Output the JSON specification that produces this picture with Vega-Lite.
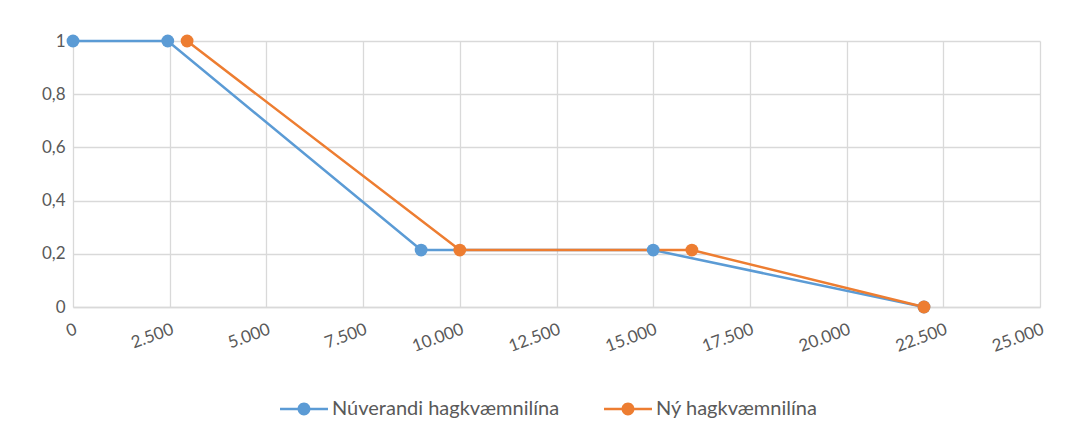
{
  "$schema": "https://vega.github.io/schema/vega-lite/v6.json",
  "autosize": {"type": "none"},
  "width": 967,
  "height": 266,
  "padding": {"left": 73, "top": 41, "right": 42, "bottom": 127},
  "background": "white",
  "config": {
    "font": "Lato",
    "view": {"stroke": null},
    "axis": {"labelFont": "Lato", "labelColor": "#595959", "labelFontSize": 17, "gridColor": "#d9d9d9", "gridWidth": 1.3, "domainColor": "#d9d9d9", "domainWidth": 1.5, "ticks": false, "title": null}
  },
  "data": {
    "values": [
      {"serie": "Núverandi hagkvæmnilína", "x": 0, "y": 1},
      {"serie": "Núverandi hagkvæmnilína", "x": 2450, "y": 1},
      {"serie": "Núverandi hagkvæmnilína", "x": 9000, "y": 0.214},
      {"serie": "Núverandi hagkvæmnilína", "x": 15000, "y": 0.214},
      {"serie": "Núverandi hagkvæmnilína", "x": 22000, "y": 0},
      {"serie": "Ný hagkvæmnilína", "x": 2950, "y": 1},
      {"serie": "Ný hagkvæmnilína", "x": 10000, "y": 0.214},
      {"serie": "Ný hagkvæmnilína", "x": 16000, "y": 0.214},
      {"serie": "Ný hagkvæmnilína", "x": 22000, "y": 0}
    ]
  },
  "encoding": {
    "x": {
      "field": "x", "type": "quantitative",
      "scale": {"domain": [0, 25000], "nice": false},
      "axis": {"values": [0, 2500, 5000, 7500, 10000, 12500, 15000, 17500, 20000, 22500, 25000], "labelAngle": -20, "labelAlign": "right", "labelBaseline": "top", "labelPadding": 14, "labelExpr": "replace(format(datum.value, ','), ',', '.')", "domain": true, "labelOverlap": false}
    },
    "y": {
      "field": "y", "type": "quantitative",
      "scale": {"domain": [0, 1], "nice": false},
      "axis": {"values": [0, 0.2, 0.4, 0.6, 0.8, 1], "labelPadding": 8, "labelExpr": "replace(toString(datum.value), '.', ',')", "domain": false}
    },
    "color": {
      "field": "serie", "type": "nominal",
      "scale": {"domain": ["Núverandi hagkvæmnilína", "Ný hagkvæmnilína"], "range": ["#5B9BD5", "#ED7D31"]},
      "legend": {"orient": "none", "legendX": 207, "legendY": 344, "direction": "horizontal", "title": null, "labelFont": "Lato", "labelFontSize": 20, "labelColor": "#595959", "labelLimit": 400, "columnPadding": 44, "labelOffset": 4,
        "symbolType": "M-1,-0.055H1V0.055H-1Z M0.27,0 A0.27,0.27 0 1,1 -0.27,0 A0.27,0.27 0 1,1 0.27,0Z",
        "symbolSize": 2300, "symbolStrokeWidth": 0, "symbolOpacity": 1}
    }
  },
  "layer": [
    {"mark": {"type": "line", "strokeWidth": 2.5}},
    {"mark": {"type": "point", "filled": true, "size": 165, "opacity": 1}}
  ]
}
